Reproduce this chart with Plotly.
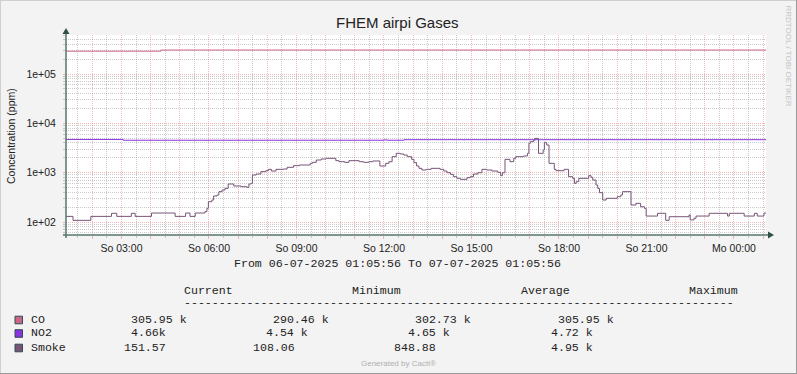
import plotly.graph_objects as go

# ---------------- data (hours since 06-07-2025 00:00) ----------------
START_H = 1 + 5 / 60 + 56 / 3600
END_H = START_H + 24

co_t = [START_H, 4.345]
co_v = [290460, 305950]

no2_t = [START_H, 3.06, 12.00, 12.11, 12.69]
no2_v = [4720, 4540, 4620, 4540, 4660]

smoke_t = [START_H, 1.34, 1.95, 2.66, 2.84, 3.34, 3.47, 4.03, 4.84, 5.20, 5.35, 5.53,
           5.86, 5.93, 5.98, 6.10, 6.16, 6.28, 6.34, 6.45, 6.55, 6.66, 6.85, 7.10,
           7.30, 7.37, 7.45, 7.49, 7.62, 7.78, 7.95, 8.04, 8.14, 8.30, 8.55, 8.68,
           8.90, 9.10, 9.47, 9.55, 9.68, 9.85, 10.02, 10.35, 10.46, 10.65, 10.80,
           11.15, 11.30, 11.48, 11.62, 11.86, 12.06, 12.17, 12.28, 12.42, 12.56,
           12.68, 12.80, 12.95, 13.03, 13.12, 13.20, 13.30, 13.45, 13.62, 13.92,
           14.05, 14.16, 14.28, 14.38, 14.50, 14.62, 14.85, 14.96, 15.07, 15.22,
           15.36, 15.52, 15.70, 15.90, 16.00, 16.06, 16.15, 16.32, 16.45, 16.52,
           16.78, 16.92, 16.97, 17.02, 17.13, 17.17, 17.30, 17.46, 17.50, 17.58,
           17.66, 17.84, 17.90, 18.18, 18.33, 18.47, 18.53, 18.59, 18.68, 19.02,
           19.10, 19.16, 19.27, 19.33, 19.39, 19.50, 19.62, 20.00, 20.12, 20.18,
           20.47, 20.64, 20.80, 20.93, 20.99, 21.38, 21.66, 21.78, 22.46, 22.50,
           22.63, 22.70, 23.15, 23.78, 23.84, 24.35, 24.70, 24.80, 25.03]
smoke_v = [130, 108, 130, 150, 130, 150, 130, 152, 130, 152, 130, 152,
           162, 189, 258, 279, 337, 353, 412, 445, 481, 589, 537, 520,
           504, 589, 608, 897, 940, 1048, 1098, 1169, 1081, 1169, 1187, 1283,
           1387, 1430, 1546, 1621, 1807, 1892, 1954, 1751, 1671, 1621, 1751,
           1671, 1621, 1671, 1725, 1365, 1546, 1671, 2110, 2466, 2390,
           2280, 2110, 1862, 1596, 1365, 1224, 1133, 1169, 1224, 1169,
           1081, 1000, 925, 830, 768, 733, 792, 830, 940, 1000,
           1169, 1133, 1081, 1016, 869, 1000, 1862, 1671, 1954, 2110,
           2178, 2466, 3933, 4250, 4525, 4950, 2466, 2881, 4056, 3637,
           1546, 1169, 1098, 1169, 830, 768, 608, 657, 768, 869,
           805, 710, 562, 481, 393, 279, 302, 326, 353, 412,
           221, 239, 204, 189, 132, 150, 108, 128, 139, 110,
           119, 132, 150, 132, 150, 132, 150, 132, 151.57]

series_names = ["CO", "NO2", "Smoke"]
series_colors = ["#CC6688", "#8833DD", "#775577"]

x_major_hours = list(range(2, 26))
x_label_hours = [3, 6, 9, 12, 15, 18, 21, 24]
x_label_text = ["So 03:00", "So 06:00", "So 09:00", "So 12:00",
                "So 15:00", "So 18:00", "So 21:00", "Mo 00:00"]

y_tick_vals = [1e2, 1e3, 1e4, 1e5]
y_tick_text = ["1e+02", "1e+03", "1e+04", "1e+05"]

stat_headers = ["Current", "Minimum", "Average", "Maximum"]
stat_rows = [
    ["305.95 k", "290.46 k", "302.73 k", "305.95 k"],
    ["4.66k", "4.54 k", "4.65 k", "4.72 k"],
    ["151.57", "108.06", "848.88", "4.95 k"],
]
period_text = "From 06-07-2025 01:05:56 To 07-07-2025 01:05:56"

# ---------------- layout geometry (pixels) ----------------
W, H = 797, 374
L, R, T, B = 66, 766, 35, 235
Y_LOG_RANGE = [1.7365, 5.791]


def px(x):
    return (x - L) / (R - L)


def py(y):
    return (B - y) / (B - T)


fig = go.Figure()


def ext(ts, vs):
    return list(ts) + [END_H], list(vs) + [vs[-1]]


for name, color, (ts, vs) in zip(series_names, series_colors,
                                 [(co_t, co_v), (no2_t, no2_v), (smoke_t, smoke_v)]):
    xs, ys = ext(ts, vs)
    fig.add_trace(go.Scatter(x=xs, y=ys, mode="lines", name=name,
                             line=dict(color=color, width=1, shape="hv"),
                             hoverinfo="skip"))

label_map = dict(zip(x_label_hours, x_label_text))
x_tick_text = [label_map.get(h, "") for h in x_major_hours]
x_minor_vals = [h + 0.5 for h in range(1, 25)]

y_minor_vals = []
for dec in [10, 100, 1000, 10000, 100000]:
    for m in range(2, 10):
        v = m * dec
        if 10 ** Y_LOG_RANGE[0] <= v <= 10 ** Y_LOG_RANGE[1]:
            y_minor_vals.append(v)

MAJ = "rgba(235,100,100,0.45)"
MIN = "rgba(150,150,150,0.5)"
TXT = "#222222"
AX = "#56766A"

fig.update_layout(
    width=W, height=H,
    margin=dict(l=L, r=W - R, t=T, b=H - B, pad=0),
    paper_bgcolor="#F3F3F3", plot_bgcolor="#FFFFFF",
    showlegend=False,
    font=dict(family="Liberation Sans", size=10.5, color=TXT),
    xaxis=dict(range=[START_H, END_H], tickmode="array", tickvals=x_major_hours,
               ticktext=x_tick_text, showgrid=True, gridcolor=MAJ, griddash="1px,1px",
               gridwidth=1, ticks="outside", ticklen=3, tickcolor=MAJ,
               ticklabelstandoff=0, showline=False, zeroline=False,
               tickfont=dict(size=10.5, color=TXT),
               minor=dict(tickmode="array", tickvals=x_minor_vals, showgrid=True,
                          gridcolor=MIN, griddash="1px,1px", gridwidth=1,
                          ticks="outside", ticklen=2, tickcolor=MIN)),
    yaxis=dict(type="log", range=Y_LOG_RANGE, tickmode="array", tickvals=y_tick_vals,
               ticktext=y_tick_text, showgrid=True, gridcolor=MAJ, griddash="1px,1px",
               gridwidth=1, ticks="outside", ticklen=2, tickcolor=MAJ,
               ticklabelstandoff=5, showline=False, zeroline=False,
               tickfont=dict(size=10.5, color=TXT),
               minor=dict(tickmode="array", tickvals=y_minor_vals, showgrid=True,
                          gridcolor=MIN, griddash="1px,1px", gridwidth=1,
                          ticks="outside", ticklen=2, tickcolor=MIN)),
)

shapes = []
# axis lines with arrows
shapes.append(dict(type="line", xref="paper", yref="paper", x0=px(66), x1=px(66),
                   y0=py(238), y1=py(32), line=dict(color=AX, width=1.5)))
shapes.append(dict(type="line", xref="paper", yref="paper", x0=px(63), x1=px(769),
                   y0=py(235), y1=py(235), line=dict(color=AX, width=1.5)))
shapes.append(dict(type="path", xref="paper", yref="paper",
                   path=f"M {px(62.5)} {py(34)} L {px(69.5)} {py(34)} L {px(66)} {py(28)} Z",
                   fillcolor="#2F5045", line=dict(width=0)))
shapes.append(dict(type="path", xref="paper", yref="paper",
                   path=f"M {px(768)} {py(231.5)} L {px(768)} {py(238.5)} L {px(774)} {py(235)} Z",
                   fillcolor="#2F5045", line=dict(width=0)))
# frame border
shapes.append(dict(type="line", xref="paper", yref="paper", x0=px(0), x1=px(W),
                   y0=py(0.5), y1=py(0.5), line=dict(color="#CFCFCF", width=1)))
shapes.append(dict(type="line", xref="paper", yref="paper", x0=px(0.5), x1=px(0.5),
                   y0=py(0), y1=py(H), line=dict(color="#CFCFCF", width=1)))
shapes.append(dict(type="line", xref="paper", yref="paper", x0=px(0), x1=px(W),
                   y0=py(H - 0.5), y1=py(H - 0.5), line=dict(color="#9A9A9A", width=1)))
shapes.append(dict(type="line", xref="paper", yref="paper", x0=px(W - 0.5), x1=px(W - 0.5),
                   y0=py(0), y1=py(H), line=dict(color="#9A9A9A", width=1)))

annotations = []


def text(x, y, s, size, color=TXT, family="Liberation Sans", xanchor="left", angle=0):
    annotations.append(dict(xref="paper", yref="paper", x=px(x), y=py(y), text=s,
                            showarrow=False, xanchor=xanchor, yanchor="middle",
                            textangle=angle, borderpad=0,
                            font=dict(size=size, color=color, family=family)))


text(397.5, 22, "FHEM airpi Gases", 15, xanchor="center")
text(11, 136, "Concentration (ppm)", 10.5, xanchor="center", angle=-90)
text(788.5, 56, "RRDTOOL / TOBI OETIKER", 8, color="#C4C4C4", xanchor="center", angle=90)

MONO = "Liberation Mono"
MS = 11.6
text(233, 263, period_text, MS, family=MONO)
for hx, h in zip([183, 351, 519.5, 688], stat_headers):
    text(hx, 290.5, h, MS, family=MONO)
text(183, 302.5, "-" * 79, MS, family=MONO)

row_y = [319, 332.5, 347]
row_x = [[130, 272, 414, 556.5], [130, 264.5, 407, 549.5], [122.5, 251.5, 393, 549.5]]
for name, color, ry, rx, vals in zip(series_names, series_colors, row_y, row_x, stat_rows):
    shapes.append(dict(type="rect", xref="paper", yref="paper",
                       x0=px(15), x1=px(22.5), y0=py(ry + 1 + 3.8), y1=py(ry + 1 - 3.8),
                       fillcolor=color, line=dict(color="#2F4F4F", width=1)))
    text(30, ry, name, MS, family=MONO)
    for vx, v in zip(rx, vals):
        text(vx, ry, v, MS, family=MONO)

text(398, 363, "Generated by Cacti®", 8, color="#B0B0B0", xanchor="center")

fig.update_layout(shapes=shapes, annotations=annotations)
fig.write_html("out.html", config={"displayModeBar": False},
               post_script="document.body.style.margin='0';document.body.style.padding='0';")
